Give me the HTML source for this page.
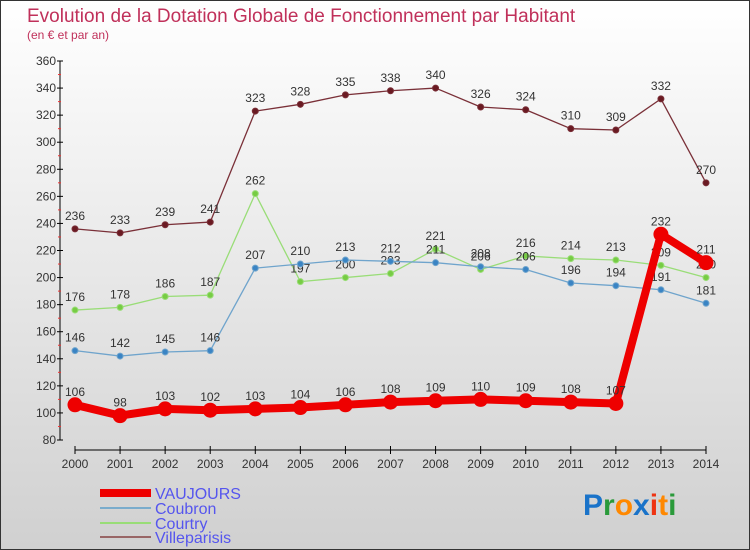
<!DOCTYPE html>
<html><head><meta charset="utf-8"><style>
body{margin:0;width:750px;height:550px;overflow:hidden}
svg{display:block;font-family:"Liberation Sans",sans-serif}
</style></head><body>
<svg id="c" width="750" height="550">
<defs><linearGradient id="bg" x1="0" y1="0" x2="0" y2="1"><stop offset="0" stop-color="#ffffff"/><stop offset="1" stop-color="#d0d0d0"/></linearGradient></defs>
<rect x="0.5" y="0.5" width="749" height="549" fill="url(#bg)" stroke="#333"/>
<text x="27" y="22" font-size="19" fill="#c0305a">Evolution de la Dotation Globale de Fonctionnement par Habitant</text>
<text x="27" y="39" font-size="12" fill="#c0305a">(en € et par an)</text>
<g id="axes"></g><g id="series"></g>
<g>
<line x1="100" y1="493" x2="151" y2="493" stroke="#ee0000" stroke-width="8"/>
<text x="155" y="499" font-size="16" fill="#5555ee">VAUJOURS</text>
<line x1="100" y1="508" x2="151" y2="508" stroke="#7aaccc" stroke-width="2"/>
<text x="155" y="514" font-size="16" fill="#5555ee">Coubron</text>
<line x1="100" y1="523" x2="151" y2="523" stroke="#99dd77" stroke-width="2"/>
<text x="155" y="529" font-size="16" fill="#5555ee">Courtry</text>
<line x1="100" y1="537" x2="151" y2="537" stroke="#996666" stroke-width="2"/>
<text x="155" y="543" font-size="16" fill="#5555ee">Villeparisis</text>
</g>
<g font-size="30" font-weight="bold">
<text x="583" y="515"><tspan fill="#1a73c9">P</tspan><tspan fill="#2a9a3a">r</tspan><tspan fill="#ff8800">o</tspan><tspan fill="#1a73c9">x</tspan><tspan fill="#ee3311">i</tspan><tspan fill="#ff8800">t</tspan><tspan fill="#2a9a3a">i</tspan></text>
</g>
</svg>
<script>
const years=[2000,2001,2002,2003,2004,2005,2006,2007,2008,2009,2010,2011,2012,2013,2014];
const yTicks=[80,100,120,140,160,180,200,220,240,260,280,300,320,340,360];
const vaujours=[106,98,103,102,103,104,106,108,109,110,109,108,107,232,211];
const coubron=[146,142,145,146,207,210,213,212,211,208,206,196,194,191,181];
const courtry=[176,178,186,187,262,197,200,203,221,206,216,214,213,209,200];
const villeparisis=[236,233,239,241,323,328,335,338,340,326,324,310,309,332,270];
const NS='http://www.w3.org/2000/svg';
const xs=i=>75+i*(706-75)/14;
const ys=v=>440-(v-80)*(379/280);
function mk(tag,attrs,parent){const e=document.createElementNS(NS,tag);for(const k in attrs)e.setAttribute(k,attrs[k]);parent.appendChild(e);return e;}
const ax=document.getElementById('axes'),sg=document.getElementById('series');
let a=mk('line',{x1:60,y1:61,x2:60,y2:440,stroke:'#000'},ax);


a=mk('line',{x1:75,y1:450,x2:706,y2:450,stroke:'#000'},ax);


yTicks.forEach((t,i)=>{const y=ys(t);mk('line',{x1:57,y1:y,x2:63,y2:y,stroke:'#000'},ax);
 if(i<yTicks.length-1)mk('line',{x1:58,y1:ys(t+10),x2:61,y2:ys(t+10),stroke:'#e33'},ax);
 const tx=mk('text',{x:56,y:y+4,'font-size':12,'text-anchor':'end',fill:'#333'},ax);tx.textContent=t;
 
 });
years.forEach((yr,i)=>{const x=xs(i);mk('line',{x1:x,y1:446,x2:x,y2:454,stroke:'#000'},ax);
 const tx=mk('text',{x:x,y:468,'font-size':12,'text-anchor':'middle',fill:'#333'},ax);tx.textContent=yr;
 
 });
function series(vals,color,dot,w,r,name){
 const g=mk('g',{},sg);
 
 
 mk('polyline',{points:vals.map((v,i)=>xs(i)+','+ys(v)).join(' '),fill:'none',stroke:color,'stroke-width':w,'stroke-linejoin':'round'},g);
 vals.forEach((v,i)=>{const c=mk('circle',{cx:xs(i),cy:ys(v),r:r,fill:dot,stroke:color,'stroke-width':1},g);
  
  
  const t=mk('text',{x:xs(i),y:ys(v)-9,'font-size':12,'text-anchor':'middle',fill:'#333'},g);t.textContent=v;
  
  });
}
series(villeparisis,'#7a3038','#6a1a22',1.3,3,'villeparisis');
series(courtry,'#99dd77','#77cc44',1.3,3,'courtry');
series(coubron,'#6fa4cc','#3a84c4',1.3,3,'coubron');
series(vaujours,'#ee0000','#ee0000',8,7,'vaujours');
</script>
</body></html>
